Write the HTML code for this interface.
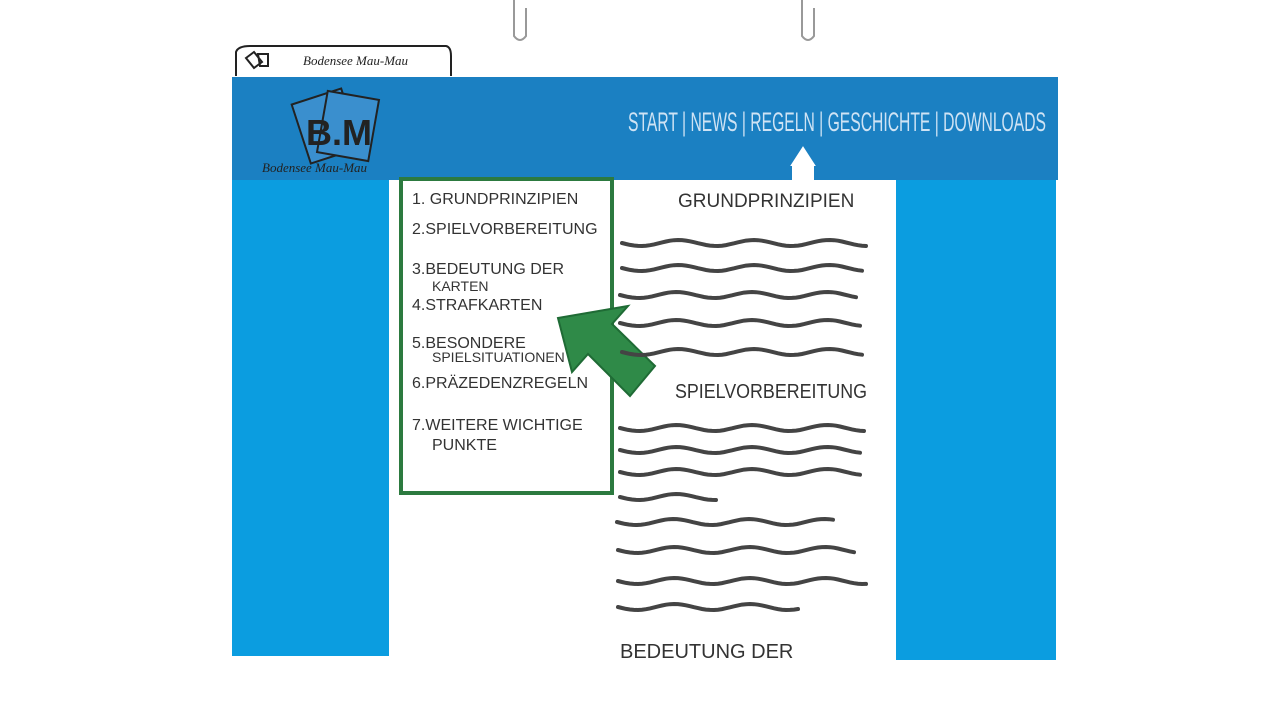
<!DOCTYPE html>
<html><head><meta charset="utf-8"><style>
body{margin:0;width:1280px;height:720px;background:#fff;overflow:hidden;position:relative;font-family:"Liberation Sans",sans-serif}
.abs{position:absolute}
</style></head><body>
<svg class="abs" style="left:0;top:0" width="1280" height="720">
 <path d="M514 0 V36 Q520 44 526 36 V8" fill="none" stroke="#999" stroke-width="2"/>
 <path d="M802 0 V36 Q808 44 814 36 V8" fill="none" stroke="#999" stroke-width="2"/>
 <path d="M236 76 V52 Q238 46 250 46 H446 Q451 47 451 56 V76" fill="#fff" stroke="#222" stroke-width="2"/>
 <text x="303" y="65" font-size="13" fill="#222" font-family="Liberation Serif,serif" font-style="italic">Bodensee  Mau-Mau</text>
 <path d="M246 58 l8 -6 l8 10 l-8 6z M258 54 l10 0 l0 12 l-8 0z" fill="none" stroke="#222" stroke-width="2"/>
 <rect x="232" y="178" width="157" height="478" fill="#0b9de0"/>
 <rect x="896" y="178" width="160" height="482" fill="#0b9de0"/>
 <rect x="389" y="178" width="507" height="484" fill="#fff"/>
 <rect x="232" y="77" width="826" height="103" fill="#1b80c2"/>
 <g>
  <rect x="300" y="95" width="52" height="62" fill="#3a8fce" stroke="#222" stroke-width="2" transform="rotate(-18 326 126)"/>
  <rect x="322" y="95" width="52" height="62" fill="#3a8fce" stroke="#222" stroke-width="2" transform="rotate(10 348 126)"/>
  <text x="306" y="145" font-size="36" font-weight="bold" fill="#222">B.M</text>
  <text x="262" y="172" font-size="13" fill="#222" font-family="Liberation Serif,serif" font-style="italic">Bodensee  Mau-Mau</text>
 </g>
 <text x="628" y="131" font-size="27" fill="#cfe3f4" font-family="Liberation Sans Narrow,Liberation Sans,sans-serif" textLength="418" lengthAdjust="spacingAndGlyphs">START | NEWS | REGELN | GESCHICHTE | DOWNLOADS</text>
 <path d="M803 180 V165 H792 L803 148 L814 165 H803" fill="#fff" stroke="#fff" stroke-width="2"/>
 <rect x="792" y="164" width="22" height="16" fill="#fff"/>
 <rect x="401" y="179" width="211" height="314" fill="none" stroke="#2c7a3f" stroke-width="4"/>
 <g font-size="16" fill="#333" font-family="Liberation Sans Narrow,Liberation Sans,sans-serif">
  <text x="412" y="204">1.  GRUNDPRINZIPIEN</text>
  <text x="412" y="234">2.SPIELVORBEREITUNG</text>
  <text x="412" y="274">3.BEDEUTUNG DER</text>
  <text x="432" y="291" font-size="14">KARTEN</text>
  <text x="412" y="310">4.STRAFKARTEN</text>
  <text x="412" y="348">5.BESONDERE</text>
  <text x="432" y="362" font-size="14">SPIELSITUATIONEN</text>
  <text x="412" y="388">6.PRÄZEDENZREGELN</text>
  <text x="412" y="430">7.WEITERE WICHTIGE</text>
  <text x="432" y="450">PUNKTE</text>
 </g>
 <path d="M558 318 L628 306 L612 324 L655 366 L630 396 L588 354 L572 372 Z" fill="#2f8a48" stroke="#1f6b35" stroke-width="2"/>
 <text x="678" y="207" font-size="19" fill="#333" font-family="Liberation Sans Narrow,Liberation Sans,sans-serif">GRUNDPRINZIPIEN</text>
 <text x="675" y="398" font-size="20" fill="#333" font-family="Liberation Sans Narrow,Liberation Sans,sans-serif" textLength="192" lengthAdjust="spacingAndGlyphs">SPIELVORBEREITUNG</text>
 <text x="620" y="658" font-size="20" fill="#333" font-family="Liberation Sans Narrow,Liberation Sans,sans-serif">BEDEUTUNG  DER</text>
 <g id="waves"></g>
</svg>
<script>
const lineY=[243,268,295,323,352,428,450,472,497,522,550,581,607];
const lineX1=[622,622,620,620,622,620,620,620,620,617,618,618,618];
const lineX2=[868,865,858,862,865,865,860,860,716,833,855,866,800];
const g=document.getElementById('waves');
lineY.forEach((y,i)=>{
 let d='M'+lineX1[i]+' '+y;
 for(let x=lineX1[i];x<=lineX2[i];x+=4){d+=' L'+x+' '+(y+3*Math.sin((x-lineX1[i])/12)).toFixed(1);}
 const p=document.createElementNS('http://www.w3.org/2000/svg','path');
 
 
 p.setAttribute('d',d);p.setAttribute('fill','none');p.setAttribute('stroke','#444');
 p.setAttribute('stroke-width','4');p.setAttribute('stroke-linecap','round');
 g.appendChild(p);
});
</script>
</body></html>
